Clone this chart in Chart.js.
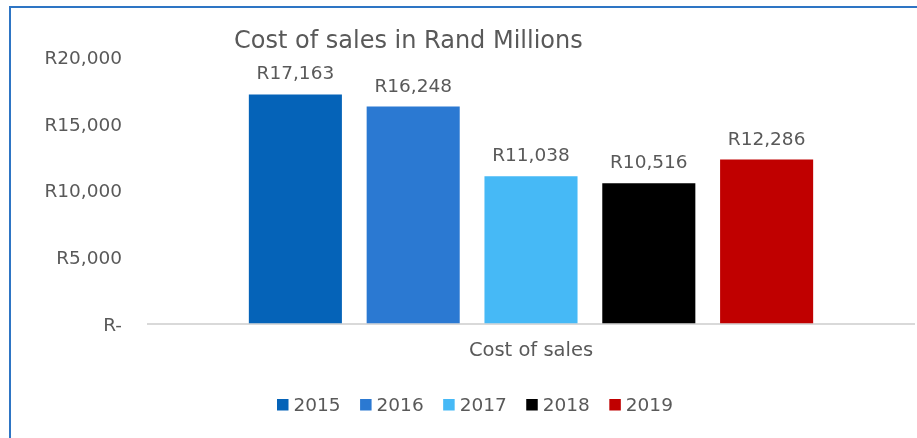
<!DOCTYPE html>
<html>
<head>
<meta charset="utf-8">
<script src="https://cdn.jsdelivr.net/npm/chart.js@4/dist/chart.umd.min.js"></script>
<style>
  html, body { margin: 0; padding: 0; background: #ffffff; overflow: hidden; }
  #frame {
    position: absolute; left: 9px; top: 6px; width: 1200px; height: 800px;
    border-left: 2px solid #2E75C4; border-top: 2px solid #2E75C4;
    box-sizing: border-box;
  }
  #wrap { position: absolute; left: 0; top: 0; width: 917px; height: 438px; }
</style>
</head>
<body>
<div id="frame"></div>
<div id="wrap"><canvas id="chart" width="917" height="438"></canvas></div>
<script>
// Cost of sales per year, Rand millions
const categories = ['Cost of sales'];
const years = ['2015', '2016', '2017', '2018', '2019'];
const values2015 = [17163];
const values2016 = [16248];
const values2017 = [11038];
const values2018 = [10516];
const values2019 = [12286];
const yearColors = ['#0563B8', '#2B79D2', '#46B9F6', '#000000', '#C00000'];
const yTicks = [0, 5000, 10000, 15000, 20000];
const chartTitle = 'Cost of sales in Rand Millions';

const FONT = '"DejaVu Sans", sans-serif';
const TEXT = '#595959';

function rand(v) {
  if (v === 0) return 'R-';
  return 'R' + v.toLocaleString('en-US');
}

const seriesValues = [values2015, values2016, values2017, values2018, values2019];

// Value labels above each bar
const valueLabels = {
  id: 'valueLabels',
  afterDatasetsDraw(chart) {
    const ctx = chart.ctx;
    ctx.save();
    ctx.font = '18.5px ' + FONT;
    ctx.fillStyle = TEXT;
    ctx.textAlign = 'center';
    ctx.textBaseline = 'alphabetic';
    chart.data.datasets.forEach((ds, i) => {
      const meta = chart.getDatasetMeta(i);
      meta.data.forEach((bar, j) => {
        ctx.fillText(rand(ds.data[j]), bar.x, bar.y - 15);
      });
    });
    ctx.restore();
  }
};

// Title and legend, placed over the left part of the frame
const titleAndLegend = {
  id: 'titleAndLegend',
  afterDraw(chart) {
    const ctx = chart.ctx;
    const area = chart.chartArea;
    ctx.save();
    ctx.fillStyle = TEXT;
    ctx.font = '24px ' + FONT;
    ctx.textAlign = 'left';
    ctx.textBaseline = 'alphabetic';
    ctx.fillText(chartTitle, area.left + 86, 48);

    ctx.font = '18.5px ' + FONT;
    let x = area.left + 129;
    const base = 411;
    const box = 11.5;
    chart.data.datasets.forEach((ds) => {
      ctx.fillStyle = ds.backgroundColor;
      ctx.fillRect(x, 399, box, box);
      x += box + 5;
      ctx.fillStyle = TEXT;
      ctx.fillText(ds.label, x, base);
      x += ctx.measureText(ds.label).width + 19.5;
    });
    ctx.restore();
  }
};

new Chart(document.getElementById('chart'), {
  type: 'bar',
  data: {
    labels: categories,
    datasets: years.map((y, i) => ({
      label: y,
      data: seriesValues[i],
      backgroundColor: yearColors[i],
      borderWidth: 0
    }))
  },
  options: {
    responsive: false,
    animation: false,
    devicePixelRatio: 1,
    layout: { padding: { left: 0, right: 3, top: 56.5, bottom: 59 } },
    datasets: { bar: { categoryPercentage: 0.769, barPercentage: 0.79 } },
    plugins: {
      legend: { display: false },
      title: { display: false },
      tooltip: { enabled: false }
    },
    scales: {
      x: {
        grid: { display: false, drawTicks: false },
        border: { display: true, color: '#D9D9D9', width: 2 },
        ticks: { color: TEXT, font: { family: FONT, size: 19.5 }, padding: 16 }
      },
      y: {
        min: 0, max: 20000,
        afterFit(scale) { scale.width = 148; },
        afterBuildTicks(scale) { scale.ticks = yTicks.map(v => ({ value: v })); },
        grid: { display: false, drawTicks: false },
        border: { display: false },
        ticks: {
          color: TEXT,
          font: { family: FONT, size: 18.5 },
          padding: 26,
          labelOffset: 2.5,
          callback: (v) => rand(v)
        }
      }
    }
  },
  plugins: [valueLabels, titleAndLegend]
});
</script>
</body>
</html>
